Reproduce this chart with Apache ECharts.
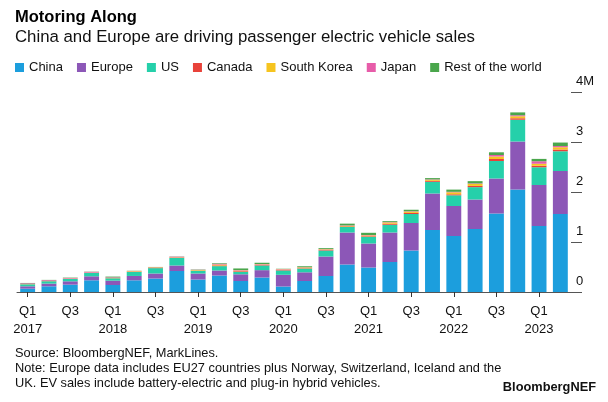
<!DOCTYPE html>
<html>
<head>
<meta charset="utf-8">
<script src="https://cdn.jsdelivr.net/npm/echarts@6/dist/echarts.min.js"></script>
<style>
html,body{margin:0;padding:0;background:#fff;}
#chart{width:608px;height:402px;}
</style>
</head>
<body>
<div id="chart"></div>
<script>
const categories = ["Q1\n2017","Q2","Q3","Q4","Q1\n2018","Q2","Q3","Q4","Q1\n2019","Q2","Q3","Q4","Q1\n2020","Q2","Q3","Q4","Q1\n2021","Q2","Q3","Q4","Q1\n2022","Q2","Q3","Q4","Q1\n2023","Q2"];
const china  = [0.067,0.114,0.147,0.234,0.14,0.234,0.27,0.42,0.25,0.33,0.22,0.29,0.11,0.22,0.32,0.55,0.49,0.60,0.83,1.24,1.12,1.26,1.57,2.05,1.32,1.56];
const europe = [0.047,0.054,0.067,0.08,0.087,0.087,0.10,0.11,0.12,0.10,0.134,0.147,0.234,0.174,0.39,0.64,0.48,0.59,0.55,0.73,0.60,0.59,0.70,0.96,0.82,0.86];
const us     = [0.04,0.047,0.047,0.067,0.047,0.08,0.107,0.15,0.054,0.087,0.05,0.094,0.087,0.074,0.12,0.11,0.134,0.155,0.18,0.234,0.214,0.247,0.35,0.435,0.355,0.395];
const canada = [0.002,0.003,0.003,0.004,0.003,0.006,0.008,0.006,0.005,0.014,0.013,0.01,0.01,0.008,0.014,0.012,0.012,0.02,0.022,0.02,0.02,0.025,0.04,0.03,0.03,0.035];
const korea  = [0.003,0.004,0.005,0.004,0.005,0.01,0.008,0.008,0.01,0.018,0.012,0.01,0.01,0.015,0.01,0.012,0.016,0.025,0.025,0.02,0.04,0.04,0.05,0.04,0.04,0.045];
const japan  = [0.015,0.015,0.012,0.015,0.012,0.004,0.004,0.013,0.006,0.016,0.01,0.009,0.009,0.006,0.005,0.008,0.008,0.007,0.008,0.008,0.01,0.01,0.03,0.02,0.05,0.024];
const rest   = [0.007,0.005,0.007,0.004,0.014,0.004,0.004,0.004,0.006,0.012,0.032,0.025,0.005,0.018,0.018,0.035,0.044,0.02,0.03,0.026,0.044,0.045,0.054,0.057,0.047,0.07];
const yTicks = [0,1,2,3,4];

const seriesDefs = [
  ["China", china, "#1c9edd"],
  ["Europe", europe, "#8c57b7"],
  ["US", us, "#25d0aa"],
  ["Canada", canada, "#e8423a"],
  ["South Korea", korea, "#f6c41f"],
  ["Japan", japan, "#e75ca9"],
  ["Rest of the world", rest, "#4aa64c"]
];

const font = "'Liberation Sans', Arial, sans-serif";
const chart = echarts.init(document.getElementById('chart'), null, {renderer:'canvas'});
chart.setOption({
  animation:false,
  textStyle:{fontFamily:font},
  title:[
    {text:"Motoring Along", left:10, top:4, textStyle:{fontFamily:font, fontSize:16.5, fontWeight:'bold', color:'#000'}},
    {text:"China and Europe are driving passenger electric vehicle sales", left:10, top:24, textStyle:{fontFamily:font, fontSize:16.8, fontWeight:'normal', color:'#111'}},
    {text:"Source: BloombergNEF, MarkLines.\nNote: Europe data includes EU27 countries plus Norway, Switzerland, Iceland and the\nUK. EV sales include battery-electric and plug-in hybrid vehicles.", left:10, top:341, textStyle:{fontFamily:font, fontSize:12.8, fontWeight:'normal', color:'#111', lineHeight:15}},
    {text:"BloombergNEF", right:7, top:376, textStyle:{fontFamily:font, fontSize:12.8, fontWeight:'bold', color:'#111'}}
  ],
  legend:{
    left:10, top:56, icon:'rect', itemWidth:9, itemHeight:9, itemGap:14,
    textStyle:{fontFamily:font, fontSize:13, color:'#111'},
    data:seriesDefs.map(d=>d[0])
  },
  grid:{left:17, right:37, top:92, bottom:110, containLabel:false},
  xAxis:{
    type:'category', data:categories,
    axisLine:{show:true, lineStyle:{color:'#555', width:1}},
    axisTick:{show:true, interval:1, alignWithLabel:true, length:5, lineStyle:{color:'#333'}},
    axisLabel:{interval:1, fontSize:13, lineHeight:18, color:'#111', margin:10, fontFamily:font}
  },
  yAxis:{
    type:'value', position:'right', min:0, max:4, interval:1,
    splitLine:{show:false},
    axisLine:{show:false},
    axisTick:{show:true, length:11, lineStyle:{color:'#555'}},
    axisLabel:{margin:5, fontSize:13, color:'#111', align:'left', verticalAlign:'bottom', padding:[0,0,4,0], fontFamily:font,
      formatter:v=> v===4 ? '4M' : String(v)}
  },
  series:seriesDefs.map(d=>({
    name:d[0], type:'bar', stack:'total', data:d[1], barWidth:'70%',
    itemStyle:{color:d[2]}
  }))
});
</script>
</body>
</html>
